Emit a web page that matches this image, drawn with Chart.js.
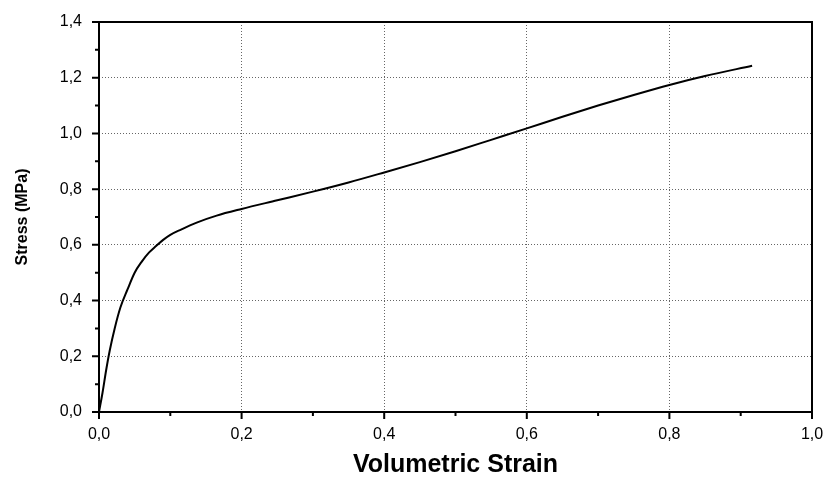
<!DOCTYPE html>
<html>
<head>
<meta charset="utf-8">
<script src="https://cdn.jsdelivr.net/npm/chart.js@4"></script>
<style>
  body { margin: 0; background: #fff; }
  canvas { display: block; }
</style>
</head>
<body>
<canvas id="grafico" width="827" height="478"></canvas>
<script>
// dados
const strain = [0, 0.005, 0.01, 0.015, 0.022, 0.03, 0.04, 0.05, 0.06, 0.07, 0.08, 0.09, 0.1, 0.115, 0.137, 0.165, 0.2, 0.25, 0.3, 0.35, 0.4, 0.45, 0.5, 0.55, 0.6, 0.65, 0.7, 0.75, 0.8, 0.85, 0.916];
const stress = [0, 0.07, 0.15, 0.22, 0.30, 0.375, 0.44, 0.50, 0.54, 0.572, 0.596, 0.618, 0.636, 0.655, 0.68, 0.705, 0.729, 0.76, 0.791, 0.824, 0.860, 0.897, 0.936, 0.977, 1.018, 1.06, 1.10, 1.138, 1.174, 1.206, 1.243];
const xTickLabels = ['0,0', '0,2', '0,4', '0,6', '0,8', '1,0'];
const yTickLabels = ['0,0', '0,2', '0,4', '0,6', '0,8', '1,0', '1,2', '1,4'];

const ctx = document.getElementById('grafico').getContext('2d');

// moldura e marcas dos eixos
const moldura = {
    id: 'moldura',
    afterDraw(chart) {
        const c = chart.ctx;
        const a = chart.chartArea;
        const sx = chart.scales.x;
        const sy = chart.scales.y;
        c.save();
        c.strokeStyle = '#000';
        c.lineWidth = 2;
        c.strokeRect(a.left, a.top, a.right - a.left, a.bottom - a.top);
        c.beginPath();
        for (let i = 0; i <= 10; i++) {
            const len = i % 2 === 0 ? 7 : 4;
            const px = sx.getPixelForValue(i / 10);
            c.moveTo(px, a.bottom);
            c.lineTo(px, a.bottom + len);
        }
        for (let i = 0; i <= 14; i++) {
            const len = i % 2 === 0 ? 7 : 4;
            const py = sy.getPixelForValue(i / 10);
            c.moveTo(a.left, py);
            c.lineTo(a.left - len, py);
        }
        c.stroke();
        c.restore();
    }
};

const gridColor = (context) => {
    const n = context.scale.ticks.length;
    if (context.index === 0 || context.index === n - 1) return 'rgba(0,0,0,0)';
    return '#666';
};

const grafico = new Chart(ctx, {
    type: 'line',
    data: {
        datasets: [{
            label: 'Stress',
            data: strain.map((v, i) => ({ x: v, y: stress[i] })),
            borderColor: '#000',
            borderWidth: 2,
            pointRadius: 0,
            cubicInterpolationMode: 'monotone',
            fill: false
        }]
    },
    options: {
        responsive: false,
        animation: false,
        devicePixelRatio: 1,
        layout: {
            padding: { left: 0, right: 15, top: 22, bottom: 0 }
        },
        plugins: {
            legend: { display: false },
            tooltip: { enabled: false }
        },
        scales: {
            x: {
                type: 'linear',
                min: 0,
                max: 1,
                afterFit: (scale) => {
                    scale.height = 66;
                    scale.paddingLeft = 0;
                    scale.paddingRight = 0;
                },
                border: { display: false, dash: [1, 2] },
                grid: {
                    color: gridColor,
                    lineWidth: 1,
                    drawTicks: false
                },
                ticks: {
                    stepSize: 0.2,
                    color: '#000',
                    padding: 13,
                    maxRotation: 0,
                    font: { size: 16, family: 'Liberation Sans' },
                    callback: function (value, index) {
                        return xTickLabels[index];
                    }
                },
                title: {
                    display: true,
                    text: 'Volumetric Strain',
                    color: '#000',
                    padding: { top: -3, bottom: 0 },
                    font: { size: 25, weight: 'bold', family: 'Liberation Sans', lineHeight: 1.0 }
                }
            },
            y: {
                type: 'linear',
                min: 0,
                max: 1.4,
                afterFit: (scale) => {
                    scale.width = 99;
                    scale.paddingTop = 0;
                    scale.paddingBottom = 0;
                },
                border: { display: false, dash: [1, 2] },
                grid: {
                    color: gridColor,
                    lineWidth: 1,
                    drawTicks: false
                },
                ticks: {
                    stepSize: 0.2,
                    color: '#000',
                    padding: 17,
                    font: { size: 16, family: 'Liberation Sans' },
                    callback: function (value, index) {
                        return yTickLabels[index];
                    }
                },
                title: {
                    display: true,
                    text: 'Stress (MPa)',
                    color: '#000',
                    padding: { top: 13, bottom: 0 },
                    font: { size: 16, weight: 'bold', family: 'Liberation Sans' }
                }
            }
        }
    },
    plugins: [moldura]
});
</script>
</body>
</html>
